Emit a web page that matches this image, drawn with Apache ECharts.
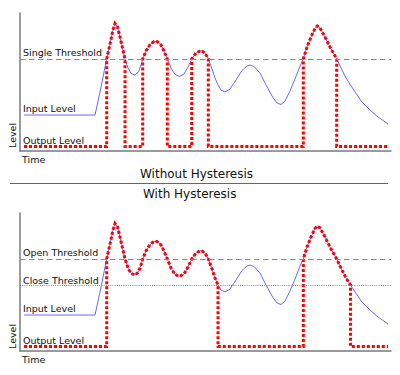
<!DOCTYPE html>
<html>
<head>
<meta charset="utf-8">
<style>
  html, body { margin: 0; padding: 0; background: #fff; }
  #chart { width: 400px; height: 375px; }
</style>
<script src="https://cdn.jsdelivr.net/npm/echarts@6/dist/echarts.min.js"></script>
</head>
<body>
<div id="chart"></div>
<script>
// ---- Data (time units / level units) ----
var timeValues = [4, 75, 80, 86.7, 90, 93, 95, 97.5, 100, 102.5, 105, 108, 111, 115, 118.5, 121, 122.7,
  126, 130, 134, 137, 141, 144, 147.3, 151, 155, 159.3, 164, 168, 171.7, 176, 181, 185, 188.3,
  192, 195, 198, 201, 205, 210, 216, 222, 227, 230, 234, 240, 246, 252, 257, 261, 265, 270, 275,
  280, 283.3, 287, 291, 295, 297.3, 300, 305, 310, 316.7, 322, 326, 330.5, 335, 342, 350, 358, 368];
var inputLevel = [36, 36, 59, 92, 107, 121, 127.5, 124, 114, 103, 92, 83, 77.5, 76, 79, 86, 92,
  100, 106.5, 109.5, 109.5, 106, 100, 92, 83, 76.5, 74.5, 77, 84, 92, 98, 100.5, 98, 92,
  82, 73, 66, 61, 59, 62, 71, 80.5, 85, 86, 84.5, 78, 66, 55, 48, 46.5, 50, 60, 72,
  85, 92, 104, 114, 122.5, 125, 123, 114, 104, 92, 81, 73, 66, 59, 49, 41, 34, 27];
var singleThreshold = 92;
var openThreshold = 92;
var closeThreshold = 66;
var outputLow = 4.5;
var labelsTop = ["Single Threshold", "Input Level", "Output Level"];
var labelsBottom = ["Open Threshold", "Close Threshold", "Input Level", "Output Level"];
var axisNames = ["Time", "Level"];
var panelTitles = ["Without Hysteresis", "With Hysteresis"];

// ---- Build series data ----
var inputPairs = timeValues.map(function (t, i) { return [t, inputLevel[i]]; });

function gateOutput(openThr, closeThr) {
  var out = [], open = false, n = timeValues.length;
  for (var i = 0; i < n; i++) {
    var t = timeValues[i], L = inputLevel[i];
    if (!open) {
      if (L >= openThr && i + 1 < n && inputLevel[i + 1] > openThr) {
        out.push([t, outputLow], [t, L]);
        open = true;
      } else {
        out.push([t, outputLow]);
      }
    } else {
      out.push([t, L]);
      if (L <= closeThr) {
        out.push([t, outputLow]);
        open = false;
      }
    }
  }
  return out;
}
var outTop = gateOutput(singleThreshold, singleThreshold);
var outBottom = gateOutput(openThreshold, closeThreshold);

var FONT = 'DejaVu Sans';
var axisStyle = { show: true, lineStyle: { color: '#7a7a7a', width: 1.5 } };
function xAx(idx) {
  return { type: 'value', gridIndex: idx, min: 0, max: 371, axisLine: axisStyle,
    axisTick: { show: false }, axisLabel: { show: false }, splitLine: { show: false } };
}
function yAx(idx) {
  return { type: 'value', gridIndex: idx, min: 0, max: 138, axisLine: axisStyle,
    axisTick: { show: false }, axisLabel: { show: false }, splitLine: { show: false } };
}
function txt(s, x, y, size, rot) {
  var o = { type: 'text', x: x, y: y, style: { text: s, fill: '#111', font: size + 'px "' + FONT + '"',
    textAlign: 'left', textVerticalAlign: 'bottom' }, z: 10 };
  if (rot) o.rotation = rot;
  return o;
}
function inputSeries(idx, marks) {
  return { type: 'line', xAxisIndex: idx, yAxisIndex: idx, data: inputPairs, showSymbol: false,
    symbol: 'none', lineStyle: { color: '#6a6aff', width: 1 }, z: 2, silent: true,
    markLine: { silent: true, symbol: 'none', label: { show: false }, animation: false, data: marks } };
}
function outputSeries(idx, data) {
  return { type: 'line', xAxisIndex: idx, yAxisIndex: idx, data: data, showSymbol: false,
    symbol: 'none', lineStyle: { color: '#ff0000', width: 3, type: [3, 2], cap: 'butt', join: 'miter' },
    z: 3, silent: true };
}

var chart = echarts.init(document.getElementById('chart'), null, { renderer: 'svg' });
chart.setOption({
  animation: false,
  grid: [
    { left: 20, top: 13, width: 371, height: 138 },
    { left: 20, top: 213, width: 371, height: 138 }
  ],
  xAxis: [xAx(0), xAx(1)],
  yAxis: [yAx(0), yAx(1)],
  series: [
    inputSeries(0, [
      { yAxis: singleThreshold, lineStyle: { color: '#888', width: 1.2, type: [5.5, 3.5] } }
    ]),
    outputSeries(0, outTop),
    inputSeries(1, [
      { yAxis: openThreshold, lineStyle: { color: '#888', width: 1.2, type: [5.5, 3.5] } },
      { yAxis: closeThreshold, lineStyle: { color: '#888', width: 1, type: [1, 1.2] } }
    ]),
    outputSeries(1, outBottom)
  ],
  graphic: [
    txt(labelsTop[0], 23, 57, 9.5),
    txt(labelsTop[1], 23, 113, 9.5),
    txt(labelsTop[2], 23, 145, 9.5),
    txt(axisNames[0], 22, 164, 9.5),
    txt(axisNames[1], 17, 148, 9.5, Math.PI / 2),
    txt(panelTitles[0], 140, 180, 12),
    { type: 'line', shape: { x1: 10, y1: 183.5, x2: 388, y2: 183.5 }, style: { stroke: '#666', lineWidth: 1 } },
    txt(panelTitles[1], 143, 200, 12),
    txt(labelsBottom[0], 23, 257, 9.5),
    txt(labelsBottom[1], 23, 285, 9.5),
    txt(labelsBottom[2], 23, 313, 9.5),
    txt(labelsBottom[3], 23, 345, 9.5),
    txt(axisNames[0], 22, 364, 9.5),
    txt(axisNames[1], 17, 349, 9.5, Math.PI / 2)
  ]
});
</script>
</body>
</html>
